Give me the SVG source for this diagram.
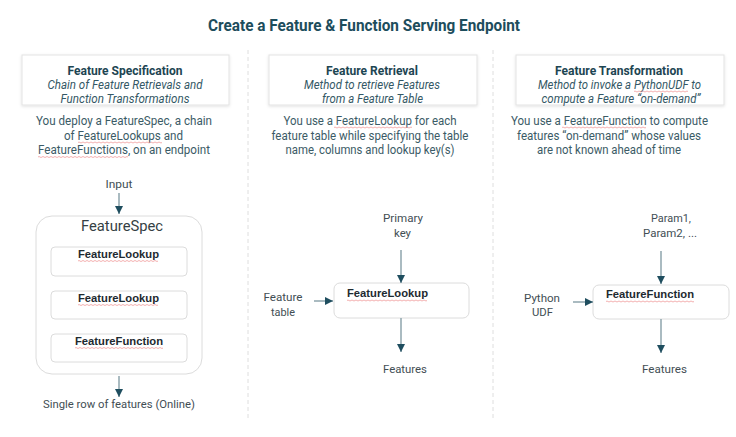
<svg xmlns="http://www.w3.org/2000/svg" width="736" height="437" viewBox="0 0 736 437">
<style>
.title{font-family:Roboto,"Liberation Sans",sans-serif;font-weight:bold;font-size:16px;fill:#1d4d5c}
.hd{font-family:Roboto,"Liberation Sans",sans-serif;font-weight:bold;font-size:12px;fill:#1d4552}
.it{font-family:Roboto,"Liberation Sans",sans-serif;font-style:italic;font-size:12.5px;fill:#345865}
.body{font-family:Roboto,"Liberation Sans",sans-serif;font-size:12.5px;fill:#3b5b66}
.lbl{font-family:Roboto,"Liberation Sans",sans-serif;font-size:11.5px;fill:#424e54}
.big{font-family:Roboto,"Liberation Sans",sans-serif;font-size:15.5px;fill:#353f44}
.nb{font-family:"Liberation Sans",Arial,sans-serif;font-weight:bold;font-size:11.5px;fill:#1e2a30}
.card{fill:#fff;stroke:#e3e3e3;stroke-width:1}
.node{fill:#fff;stroke:#dcdcdc;stroke-width:1}
.div{stroke:#dedede;stroke-width:1;stroke-dasharray:4 3}
.arr{stroke:#8ea4ac;stroke-width:1.5;fill:none;marker-end:url(#ah)}
.sq{stroke:#ee8f8f;stroke-width:0.7;fill:none}
</style>
<defs>
<marker id="ah" markerUnits="userSpaceOnUse" markerWidth="8" markerHeight="8" refX="8" refY="4" orient="auto">
<path d="M0,0 L8,4 L0,8 z" fill="#1f4e5f"/>
</marker>
<filter id="sh" x="-10%" y="-20%" width="120%" height="150%">
<feDropShadow dx="0" dy="1" stdDeviation="1.5" flood-color="#000" flood-opacity="0.12"/>
</filter>
</defs>
<rect width="736" height="437" fill="#fff"/>

<text class="title" x="364" y="31" text-anchor="middle" textLength="312" lengthAdjust="spacingAndGlyphs">Create a Feature &amp; Function Serving Endpoint</text>

<g id="dividers">
<line class="div" x1="248" y1="50" x2="248" y2="418"/>
<line class="div" x1="493" y1="50" x2="493" y2="418"/>
</g>

<g id="card-spec">
<rect class="card" x="22" y="55" width="207" height="50" filter="url(#sh)"/>
<text class="hd" x="125" y="75" text-anchor="middle" textLength="115" lengthAdjust="spacingAndGlyphs">Feature Specification</text>
<text class="it" x="125" y="89" text-anchor="middle" textLength="155" lengthAdjust="spacingAndGlyphs">Chain of Feature Retrievals and</text>
<text class="it" x="125" y="103" text-anchor="middle" textLength="129" lengthAdjust="spacingAndGlyphs">Function Transformations</text>
<text class="body" x="124" y="125" text-anchor="middle" textLength="176" lengthAdjust="spacingAndGlyphs">You deploy a FeatureSpec,  a chain</text>
<text class="body" x="123.5" y="139.5" text-anchor="middle" textLength="119" lengthAdjust="spacingAndGlyphs">of FeatureLookups and</text>
<text class="body" x="124" y="154" text-anchor="middle" textLength="172" lengthAdjust="spacingAndGlyphs">FeatureFunctions, on an endpoint</text>
</g>

<g id="card-retrieval">
<rect class="card" x="269" y="55" width="208" height="50" filter="url(#sh)"/>
<text class="hd" x="372" y="75" text-anchor="middle" textLength="92" lengthAdjust="spacingAndGlyphs">Feature Retrieval</text>
<text class="it" x="372" y="89" text-anchor="middle" textLength="136" lengthAdjust="spacingAndGlyphs">Method to retrieve Features</text>
<text class="it" x="372.5" y="103" text-anchor="middle" textLength="101" lengthAdjust="spacingAndGlyphs">from a Feature Table</text>
<text class="body" x="370" y="125" text-anchor="middle" textLength="173" lengthAdjust="spacingAndGlyphs">You use a FeatureLookup for each</text>
<text class="body" x="370" y="139.5" text-anchor="middle" textLength="197" lengthAdjust="spacingAndGlyphs">feature table while specifying the table</text>
<text class="body" x="370" y="154" text-anchor="middle" textLength="169" lengthAdjust="spacingAndGlyphs">name, columns and lookup key(s)</text>
</g>

<g id="card-transformation">
<rect class="card" x="516" y="55" width="208" height="50" filter="url(#sh)"/>
<text class="hd" x="619" y="75" text-anchor="middle" textLength="128" lengthAdjust="spacingAndGlyphs">Feature Transformation</text>
<text class="it" x="619.5" y="89" text-anchor="middle" textLength="163" lengthAdjust="spacingAndGlyphs">Method to invoke a PythonUDF to</text>
<text class="it" x="621" y="103" text-anchor="middle" textLength="159" lengthAdjust="spacingAndGlyphs">compute a Feature “on-demand”</text>
<text class="body" x="609.5" y="125" text-anchor="middle" textLength="197" lengthAdjust="spacingAndGlyphs">You use a FeatureFunction to compute</text>
<text class="body" x="609" y="139.5" text-anchor="middle" textLength="184" lengthAdjust="spacingAndGlyphs">features “on-demand” whose values</text>
<text class="body" x="609" y="154" text-anchor="middle" textLength="144" lengthAdjust="spacingAndGlyphs">are not known ahead of time</text>
</g>

<g id="featurespec">
<rect class="node" x="36" y="216" width="166" height="158" rx="16"/>
<text class="big" x="122" y="231" text-anchor="middle" textLength="82" lengthAdjust="spacingAndGlyphs">FeatureSpec</text>
</g>
<g id="spec-lookup-1">
<rect class="node" x="51" y="247" width="136" height="29" rx="4"/>
<text class="nb" x="118.5" y="258" text-anchor="middle" textLength="81" lengthAdjust="spacingAndGlyphs">FeatureLookup</text>
</g>
<g id="spec-lookup-2">
<rect class="node" x="51" y="291" width="136" height="28" rx="4"/>
<text class="nb" x="118.5" y="302" text-anchor="middle" textLength="81" lengthAdjust="spacingAndGlyphs">FeatureLookup</text>
</g>
<g id="spec-function">
<rect class="node" x="51" y="334" width="136" height="28" rx="4"/>
<text class="nb" x="119" y="345" text-anchor="middle" textLength="88" lengthAdjust="spacingAndGlyphs">FeatureFunction</text>
</g>
<g id="input">
<text class="lbl" x="119" y="188" text-anchor="middle" textLength="27" lengthAdjust="spacingAndGlyphs">Input</text>
</g>
<g id="single-row">
<text class="lbl" x="119" y="408" text-anchor="middle" textLength="152" lengthAdjust="spacingAndGlyphs">Single row of features (Online)</text>
</g>

<g id="lookup">
<rect class="node" x="334" y="283" width="135" height="35" rx="6"/>
<text class="nb" x="347" y="297" textLength="81" lengthAdjust="spacingAndGlyphs">FeatureLookup</text>
</g>
<g id="primary-key">
<text class="lbl" x="403" y="222" text-anchor="middle" textLength="40" lengthAdjust="spacingAndGlyphs">Primary</text>
<text class="lbl" x="402.5" y="237" text-anchor="middle" textLength="17" lengthAdjust="spacingAndGlyphs">key</text>
</g>
<g id="feature-table">
<text class="lbl" x="283" y="301" text-anchor="middle" textLength="39" lengthAdjust="spacingAndGlyphs">Feature</text>
<text class="lbl" x="283" y="316" text-anchor="middle" textLength="24" lengthAdjust="spacingAndGlyphs">table</text>
</g>
<g id="features-mid">
<text class="lbl" x="405" y="373" text-anchor="middle" textLength="44" lengthAdjust="spacingAndGlyphs">Features</text>
</g>

<g id="function">
<rect class="node" x="593" y="285" width="136" height="34" rx="6"/>
<text class="nb" x="606" y="298" textLength="88" lengthAdjust="spacingAndGlyphs">FeatureFunction</text>
</g>
<g id="params">
<text class="lbl" x="671" y="222" text-anchor="middle" textLength="40" lengthAdjust="spacingAndGlyphs">Param1,</text>
<text class="lbl" x="670" y="237" text-anchor="middle" textLength="54" lengthAdjust="spacingAndGlyphs">Param2, ...</text>
</g>
<g id="python-udf">
<text class="lbl" x="542" y="302" text-anchor="middle" textLength="36" lengthAdjust="spacingAndGlyphs">Python</text>
<text class="lbl" x="542.5" y="316" text-anchor="middle" textLength="21" lengthAdjust="spacingAndGlyphs">UDF</text>
</g>
<g id="features-right">
<text class="lbl" x="664.5" y="373" text-anchor="middle" textLength="45" lengthAdjust="spacingAndGlyphs">Features</text>
</g>

<g id="connectors">
<line class="arr" x1="119" y1="193" x2="119" y2="214"/>
<line class="arr" x1="119" y1="376" x2="119" y2="397"/>
<line class="arr" x1="401" y1="250" x2="401" y2="283"/>
<line class="arr" x1="314" y1="301" x2="333" y2="301"/>
<line class="arr" x1="401" y1="318" x2="401" y2="352"/>
<line class="arr" x1="661" y1="251" x2="661" y2="284"/>
<line class="arr" x1="573" y1="302" x2="593" y2="302"/>
<line class="arr" x1="661" y1="319" x2="661" y2="353"/>
</g>

<g id="spellcheck-marks">
<path class="sq" d="M78,142.5 q1,-1 2,0 t2,0 t2,0 t2,0 t2,0 t2,0 t2,0 t2,0 t2,0 t2,0 t2,0 t2,0 t2,0 t2,0 t2,0 t2,0 t2,0 t2,0 t2,0 t2,0 t2,0 t2,0 t2,0 t2,0 t2,0 t2,0 t2,0 t2,0 t2,0 t2,0 t2,0 t2,0 t2,0 t2,0 t2,0 t2,0 t2,0 t2,0 t2,0 t2,0 t2,0 t2,0"/>
<path class="sq" d="M38,157 q1,-1 2,0 t2,0 t2,0 t2,0 t2,0 t2,0 t2,0 t2,0 t2,0 t2,0 t2,0 t2,0 t2,0 t2,0 t2,0 t2,0 t2,0 t2,0 t2,0 t2,0 t2,0 t2,0 t2,0 t2,0 t2,0 t2,0 t2,0 t2,0 t2,0 t2,0 t2,0 t2,0 t2,0 t2,0 t2,0 t2,0 t2,0 t2,0 t2,0 t2,0 t2,0 t2,0 t2,0 t2,0 t2,0"/>
<path class="sq" d="M334,127.5 q1,-1 2,0 t2,0 t2,0 t2,0 t2,0 t2,0 t2,0 t2,0 t2,0 t2,0 t2,0 t2,0 t2,0 t2,0 t2,0 t2,0 t2,0 t2,0 t2,0 t2,0 t2,0 t2,0 t2,0 t2,0 t2,0 t2,0 t2,0 t2,0 t2,0 t2,0 t2,0 t2,0 t2,0 t2,0 t2,0 t2,0 t2,0 t2,0 t2,0"/>
<path class="sq" d="M562,127.5 q1,-1 2,0 t2,0 t2,0 t2,0 t2,0 t2,0 t2,0 t2,0 t2,0 t2,0 t2,0 t2,0 t2,0 t2,0 t2,0 t2,0 t2,0 t2,0 t2,0 t2,0 t2,0 t2,0 t2,0 t2,0 t2,0 t2,0 t2,0 t2,0 t2,0 t2,0 t2,0 t2,0 t2,0 t2,0 t2,0 t2,0 t2,0 t2,0 t2,0 t2,0 t2,0 t2,0"/>
<path class="sq" d="M634,91.5 q1,-1 2,0 t2,0 t2,0 t2,0 t2,0 t2,0 t2,0 t2,0 t2,0 t2,0 t2,0 t2,0 t2,0 t2,0 t2,0 t2,0 t2,0 t2,0 t2,0 t2,0 t2,0 t2,0 t2,0 t2,0 t2,0 t2,0 t2,0"/>
<path class="sq" d="M78,261 q1,-1 2,0 t2,0 t2,0 t2,0 t2,0 t2,0 t2,0 t2,0 t2,0 t2,0 t2,0 t2,0 t2,0 t2,0 t2,0 t2,0 t2,0 t2,0 t2,0 t2,0 t2,0 t2,0 t2,0 t2,0 t2,0 t2,0 t2,0 t2,0 t2,0 t2,0 t2,0 t2,0 t2,0 t2,0 t2,0 t2,0 t2,0 t2,0 t2,0 t2,0"/>
<path class="sq" d="M78,305 q1,-1 2,0 t2,0 t2,0 t2,0 t2,0 t2,0 t2,0 t2,0 t2,0 t2,0 t2,0 t2,0 t2,0 t2,0 t2,0 t2,0 t2,0 t2,0 t2,0 t2,0 t2,0 t2,0 t2,0 t2,0 t2,0 t2,0 t2,0 t2,0 t2,0 t2,0 t2,0 t2,0 t2,0 t2,0 t2,0 t2,0 t2,0 t2,0 t2,0 t2,0"/>
<path class="sq" d="M75,348 q1,-1 2,0 t2,0 t2,0 t2,0 t2,0 t2,0 t2,0 t2,0 t2,0 t2,0 t2,0 t2,0 t2,0 t2,0 t2,0 t2,0 t2,0 t2,0 t2,0 t2,0 t2,0 t2,0 t2,0 t2,0 t2,0 t2,0 t2,0 t2,0 t2,0 t2,0 t2,0 t2,0 t2,0 t2,0 t2,0 t2,0 t2,0 t2,0 t2,0 t2,0 t2,0 t2,0 t2,0 t2,0"/>
<path class="sq" d="M347,300.5 q1,-1 2,0 t2,0 t2,0 t2,0 t2,0 t2,0 t2,0 t2,0 t2,0 t2,0 t2,0 t2,0 t2,0 t2,0 t2,0 t2,0 t2,0 t2,0 t2,0 t2,0 t2,0 t2,0 t2,0 t2,0 t2,0 t2,0 t2,0 t2,0 t2,0 t2,0 t2,0 t2,0 t2,0 t2,0 t2,0 t2,0 t2,0 t2,0 t2,0 t2,0"/>
<path class="sq" d="M606,301.5 q1,-1 2,0 t2,0 t2,0 t2,0 t2,0 t2,0 t2,0 t2,0 t2,0 t2,0 t2,0 t2,0 t2,0 t2,0 t2,0 t2,0 t2,0 t2,0 t2,0 t2,0 t2,0 t2,0 t2,0 t2,0 t2,0 t2,0 t2,0 t2,0 t2,0 t2,0 t2,0 t2,0 t2,0 t2,0 t2,0 t2,0 t2,0 t2,0 t2,0 t2,0 t2,0 t2,0 t2,0 t2,0"/>
</g>
</svg>
